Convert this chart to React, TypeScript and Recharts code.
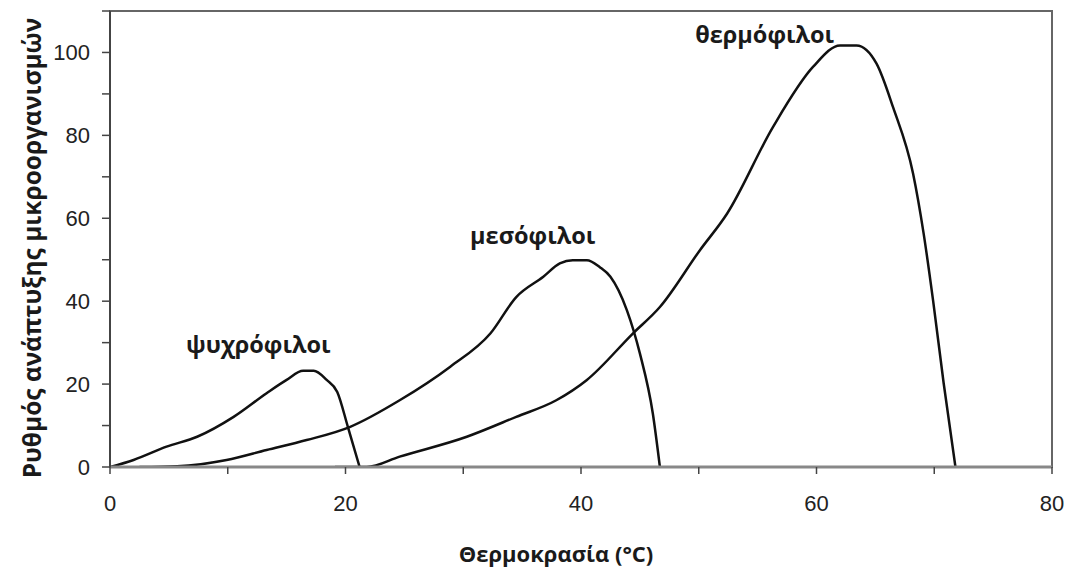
import React from 'react';
import { LineChart, Line, XAxis, YAxis, ReferenceArea, ReferenceDot } from 'recharts';

// Psychrophiles
const psychroT = [0, 2, 4.8, 7.4, 10.5, 13.3, 15.0, 16.4, 17.3, 18.4, 19.3, 20.2, 21.2];
const psychroV = [0, 1.7, 4.9, 7.3, 12.1, 17.8, 21, 23.2, 23.2, 21, 18.1, 9.7, 0];

// Mesophiles
const mesoT = [2.5, 5.7, 9.9, 13.3, 16.7, 20.4, 24.6, 28.9, 32.3, 34.5, 36.8, 38.2, 39.3, 40.5, 41.6, 42.5, 43.9, 45.0, 46.1, 46.7];
const mesoV = [0, 0.2, 1.7, 4.1, 6.5, 9.7, 16.1, 24.2, 32.2, 41.0, 45.9, 49.1, 49.9, 49.9, 48.2, 45.9, 37.8, 27.4, 12.9, 0];

// Thermophiles
const thermoT = [19.1, 21.8, 24.6, 30.3, 34.5, 37.9, 40.5, 44.4, 46.7, 50.1, 52.4, 56.3, 59.7, 62.0, 63.4, 65.1, 66.5, 68.2, 69.1, 69.9, 70.8, 71.8];
const thermoV = [0, 0, 2.5, 7.3, 12.1, 16.1, 21, 32.2, 38.6, 52.3, 61.1, 82, 96.5, 101.7, 101.7, 97.3, 86.8, 70.8, 56.3, 40.2, 20.2, 0];

const xTicks = [0, 10, 20, 30, 40, 50, 60, 70, 80];
const yTicks = [0, 10, 20, 30, 40, 50, 60, 70, 80, 90, 100, 110];

const curveLabels = ['ψυχρόφιλοι', 'μεσόφιλοι', 'θερμόφιλοι'];
const labelT = [12.6, 35.9, 55.6];
const labelV = [29.4, 55.9, 104.3];

const xTitle = 'Θερμοκρασία (°C)';
const yTitle = 'Ρυθμός ανάπτυξης μικροοργανισμών';

const toData = (ts: number[], vs: number[]) => ts.map((t, i) => ({ t, v: vs[i] }));

const psychro = toData(psychroT, psychroV);
const meso = toData(mesoT, mesoV);
const thermo = toData(thermoT, thermoV);

const titleFont = '"Open Sans", "Noto Sans", sans-serif';
const tickFont = '"Liberation Sans", Arial, sans-serif';

const tickFmt = (v: number) => (v % 20 === 0 ? String(v) : '');

const YTitle = () => {
  const cx = 31;
  const cy = 248;
  return (
    <text
      x={cx}
      y={cy}
      transform={`rotate(-90, ${cx}, ${cy})`}
      textAnchor="middle"
      dominantBaseline="central"
      fontFamily={titleFont}
      fontWeight={700}
      fontSize={24.5}
      fill="#1a1a1a"
    >
      {yTitle}
    </text>
  );
};

const XTitle = () => (
  <text
    x={556}
    y={553}
    textAnchor="middle"
    dominantBaseline="central"
    fontFamily={titleFont}
    fontWeight={700}
    fontSize={22}
    fill="#1a1a1a"
  >
    {xTitle}
  </text>
);

export default function App() {
  return (
    <div style={{ position: 'absolute', left: 0, top: 0, width: 1070, height: 572, background: '#fff' }}>
      <LineChart width={1070} height={572} margin={{ top: 11, right: 18, left: 0, bottom: 0 }}>
        <ReferenceArea x1={0} x2={80} y1={0} y2={110} fill="none" stroke="#666" strokeWidth={2} ifOverflow="visible" />
        <XAxis
          type="number"
          dataKey="t"
          domain={[0, 80]}
          ticks={xTicks}
          tickFormatter={tickFmt}
          height={105}
          tickSize={7}
          tickMargin={21}
          axisLine={{ stroke: '#888', strokeWidth: 3 }}
          tickLine={{ stroke: '#444', strokeWidth: 1.5 }}
          tick={{ fill: '#222', fontSize: 22, fontFamily: tickFont }}
          allowDataOverflow
          label={<XTitle />}
        />
        <YAxis
          type="number"
          dataKey="v"
          domain={[0, 110]}
          ticks={yTicks}
          tickFormatter={tickFmt}
          width={110}
          tickSize={8}
          tickMargin={12}
          axisLine={{ stroke: '#444', strokeWidth: 2 }}
          tickLine={{ stroke: '#444', strokeWidth: 1.5 }}
          tick={{ fill: '#222', fontSize: 22, fontFamily: tickFont }}
          allowDataOverflow
          label={<YTitle />}
        />
        <Line data={psychro} dataKey="v" type="monotone" stroke="#111" strokeWidth={2.5} dot={false} isAnimationActive={false} />
        <Line data={meso} dataKey="v" type="monotone" stroke="#111" strokeWidth={2.5} dot={false} isAnimationActive={false} />
        <Line data={thermo} dataKey="v" type="monotone" stroke="#111" strokeWidth={2.5} dot={false} isAnimationActive={false} />
        {curveLabels.map((name, i) => (
          <ReferenceDot
            key={name}
            x={labelT[i]}
            y={labelV[i]}
            r={0}
            fill="none"
            stroke="none"
            ifOverflow="visible"
            label={{
              value: name,
              position: 'center',
              fill: '#1a1a1a',
              fontSize: 23.5,
              fontWeight: 700,
              fontFamily: titleFont,
            }}
          />
        ))}
      </LineChart>
    </div>
  );
}
